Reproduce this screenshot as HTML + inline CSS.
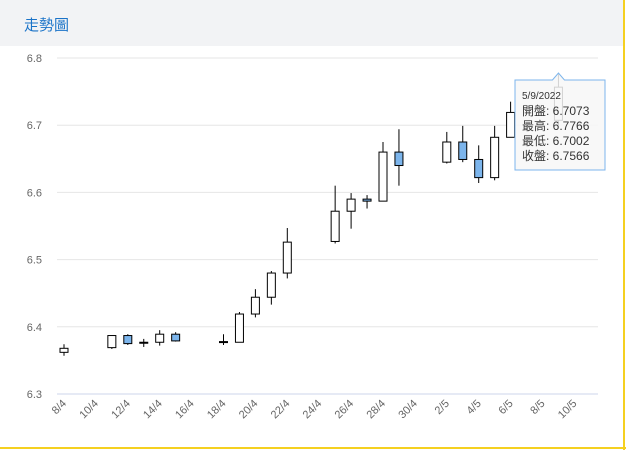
<!DOCTYPE html>
<html><head><meta charset="utf-8"><style>
body{margin:0;width:626px;height:450px;overflow:hidden;background:#fff;font-family:"Liberation Sans","Noto Sans CJK TC",sans-serif;position:relative}
#hdr{position:absolute;left:0;top:0;width:624px;height:46px;background:#f2f3f5}
#ttl{position:absolute;left:24px;top:14px;font-size:15px;color:#1a73c8;font-family:"Noto Sans CJK TC",sans-serif}
#rb{position:absolute;left:623px;top:0;width:2px;height:450px;background:#f5d020}
#bb{position:absolute;left:0;top:447px;width:626px;height:2px;background:#f5d020}
</style></head><body>
<div id="hdr"><div id="ttl">走勢圖</div></div>
<div id="rb"></div>
<div id="bb"></div>
<svg id="c" width="626" height="450" style="position:absolute;left:0;top:0"></svg>
<script>
const dates=[0,3,4,5,6,7,10,11,12,13,14,17,18,19,20,21,24,25,26,27,28,31];
const opens=[6.362,6.369,6.387,6.376,6.377,6.389,6.378,6.377,6.419,6.444,6.480,6.527,6.572,6.590,6.587,6.660,6.645,6.675,6.649,6.622,6.682,6.7073];
const highs=[6.374,6.387,6.389,6.382,6.395,6.392,6.389,6.422,6.456,6.483,6.547,6.610,6.599,6.596,6.675,6.694,6.690,6.699,6.670,6.699,6.735,6.7766];
const lows=[6.357,6.367,6.373,6.370,6.372,6.378,6.373,6.377,6.414,6.433,6.472,6.524,6.546,6.576,6.587,6.610,6.643,6.645,6.614,6.618,6.682,6.7002];
const closes=[6.368,6.387,6.375,6.377,6.389,6.379,6.378,6.419,6.444,6.480,6.526,6.572,6.590,6.587,6.660,6.640,6.675,6.649,6.622,6.682,6.719,6.7566];
const yTicks=[6.3,6.4,6.5,6.6,6.7,6.8];
const xTickDays=[0,2,4,6,8,10,12,14,16,18,20,22,24,26,28,30,32];
const xTickLabels=["8/4","10/4","12/4","14/4","16/4","18/4","20/4","22/4","24/4","26/4","28/4","30/4","2/5","4/5","6/5","8/5","10/5"];
const NS="http://www.w3.org/2000/svg";
const svg=document.getElementById('c');
const X=d=>64+d*15.95;
const Y=v=>394-(v-6.3)*672;
function mk(t,a,p){const e=document.createElementNS(NS,t);for(const k in a)e.setAttribute(k,a[k]);(p||svg).appendChild(e);return e;}
yTicks.forEach(v=>{
 const l=mk('line',{x1:57,x2:598,y1:Y(v),y2:Y(v),stroke:v===6.3?'#ccd6eb':'#e6e6e6','stroke-width':1});
 
 
 const t=mk('text',{x:42,y:Y(v)+4,'text-anchor':'end','font-size':11,fill:'#666'});
 t.textContent=v.toFixed(1);
 
 
});
xTickDays.forEach((d,i)=>{
 const x=X(d)+3,y=404;
 const t=mk('text',{x:x,y:y,'text-anchor':'end','font-size':11,fill:'#666',transform:`rotate(-45 ${x} ${y})`});
 t.textContent=xTickLabels[i];
 
 
});
dates.forEach((d,i)=>{
 const g=mk('g',{});
 
 
 const x=X(d),o=opens[i],c=closes[i];
 mk('line',{x1:x,x2:x,y1:Y(highs[i]),y2:Y(lows[i]),stroke:'#000','stroke-width':1},g);
 const top=Y(Math.max(o,c)),bot=Y(Math.min(o,c));
 mk('rect',{x:x-4,y:top,width:8,height:Math.max(bot-top,1),fill:c>=o?'#fff':'#7cb5ec',stroke:'#000','stroke-width':1},g);
});
// tooltip
const tg=mk('g',{});


const ti=dates.length-1,tx=X(dates[ti]);
mk('path',{d:`M515 80 H${tx-6} L${tx} 73 L${tx+6} 80 H605 V170 H515 Z`,fill:'rgba(247,247,247,0.85)',stroke:'#7cb5ec','stroke-width':1},tg);
const lines=["5/9/2022","開盤: "+opens[ti].toFixed(4),"最高: "+highs[ti].toFixed(4),"最低: "+lows[ti].toFixed(4),"收盤: "+closes[ti].toFixed(4)];
lines.forEach((s,i)=>{
 const t=mk('text',{x:522,y:i===0?99:115+i*15-15+0,'font-size':i===0?10:12,fill:'#333','font-family':'"Liberation Sans","Noto Sans CJK TC",sans-serif'},tg);
 t.textContent=s;
 
 
});
</script>
</body></html>
